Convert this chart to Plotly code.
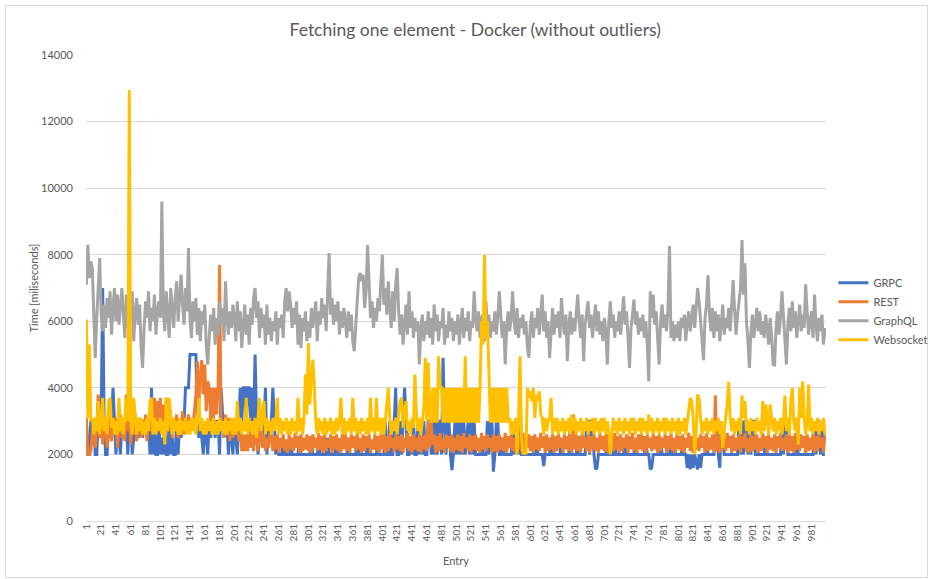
import plotly.graph_objects as go

# Entries 1..999, every second entry (milliseconds)
series_names = ["GRPC", "REST", "GraphQL", "Websocket"]
series_colors = ["#4472C4", "#ED7D31", "#A5A5A5", "#FFC000"]

grpc_ms = [
    3000, 2000, 2000, 3000, 2500, 3000, 2000, 2000, 3000, 2500, 3000, 7000, 3000, 2000, 2000, 3000, 2500, 3000, 4000, 3000, 2000, 3000, 2500, 2000, 3000,
    3000, 2500, 3000, 2000, 3000, 3000, 2000, 2500, 3000, 3000, 2500, 3000, 3000, 2500, 3000, 3000, 2500, 3000, 2000, 4000, 2000, 3000, 2000, 2000, 3000,
    2000, 2500, 2000, 3000, 2000, 2000, 3000, 2000, 2500, 2000, 2000, 3000, 2000, 3000, 2500, 3000, 3000, 4000, 4000, 4000, 5000, 5000, 5000, 5000, 5000,
    3000, 2500, 3000, 2500, 2000, 3000, 2500, 2000, 3000, 2500, 3000, 3000, 2500, 3000, 3000, 2000, 4000, 3000, 2500, 3000, 3000, 2000, 3000, 2500, 2000,
    3000, 2500, 2000, 3000, 4000, 3000, 4000, 4000, 3000, 4000, 4000, 3000, 4000, 3000, 5000, 3000, 2000, 2500, 3000, 2500, 3000, 4000, 2000, 3000, 2500,
    3000, 4000, 3000, 2000, 2500, 2000, 2000, 2000, 2500, 2000, 2000, 2000, 2000, 2500, 2000, 2000, 2000, 2000, 2000, 2500, 2000, 2000, 2000, 2000, 2000,
    2000, 2000, 2500, 2000, 2000, 2000, 2000, 2500, 2000, 2000, 2000, 2000, 2000, 2500, 2000, 2000, 2000, 2000, 2000, 2500, 2000, 2000, 2000, 2000, 2000,
    2000, 2000, 2500, 2000, 2000, 2000, 2000, 2000, 2500, 2000, 2000, 2000, 2000, 2000, 2000, 2500, 2000, 2000, 2000, 2000, 2000, 2000, 2500, 2000, 2000,
    2000, 2000, 3000, 2000, 2000, 3000, 2000, 2000, 3000, 4000, 2000, 2000, 3000, 2000, 3000, 4000, 3000, 2000, 2000, 2500, 2000, 3000, 2000, 2000, 3000,
    2000, 2500, 2000, 3000, 2000, 2000, 3000, 3000, 2000, 3000, 2000, 3000, 2000, 3000, 3000, 2000, 4900, 3000, 2000, 3000, 3000, 2000, 1530, 2000, 3000,
    2000, 3000, 2000, 3000, 2000, 3000, 2000, 2500, 3000, 2000, 3000, 2000, 3000, 2000, 2000, 2000, 2000, 2500, 2000, 2000, 2000, 3000, 2000, 3000, 3000,
    1480, 2000, 3000, 3000, 2000, 2000, 2500, 2000, 2000, 2000, 2000, 2000, 2000, 3000, 2000, 3000, 3000, 2000, 3000, 2000, 2000, 2000, 2000, 2000, 2000,
    2000, 2000, 2000, 2000, 2500, 2000, 2000, 2000, 2000, 1650, 2000, 2000, 2000, 2000, 2500, 2000, 2000, 2000, 2000, 2000, 2000, 2500, 2000, 2000, 2000,
    2000, 2000, 3000, 2000, 2000, 2000, 2000, 2500, 2000, 2000, 2000, 2000, 2000, 3000, 3000, 2000, 3000, 3000, 2000, 1550, 1600, 2000, 2000, 2000, 2000,
    2000, 2000, 3000, 2000, 2000, 2000, 2000, 2500, 2000, 2000, 2000, 2000, 2000, 2000, 2500, 2000, 2000, 2000, 2000, 2000, 2000, 2500, 2000, 2000, 2000,
    2000, 2000, 2000, 2500, 2000, 2000, 1550, 1600, 2000, 2000, 2000, 2000, 2000, 2500, 2000, 2000, 2000, 2000, 2000, 2000, 2500, 2000, 2000, 2000, 2000,
    2000, 2000, 2000, 2500, 2000, 2000, 1600, 2000, 1550, 2000, 1600, 2000, 1700, 1550, 2000, 1600, 2000, 2000, 2000, 2500, 2000, 2000, 2000, 2000, 2000,
    2500, 3000, 2000, 1600, 3000, 2500, 2000, 2000, 2000, 2000, 2000, 2000, 2000, 2000, 2000, 2000, 3000, 2000, 3000, 2000, 3000, 3000, 2000, 3000, 2000,
    3000, 3000, 2000, 2000, 2000, 2000, 2000, 2000, 2000, 2500, 2000, 2000, 2000, 2000, 2000, 2000, 2000, 2000, 2000, 2000, 3000, 2000, 3000, 3000, 2000,
    2000, 2000, 2000, 2000, 2000, 2500, 2000, 2000, 2000, 2000, 2000, 2000, 2000, 2000, 2000, 2000, 2000, 3000, 2000, 3000, 3000, 2000, 3000, 2000, 2000,
]

rest_ms = [
    3100, 2000, 2000, 2100, 2600, 3000, 2200, 2800, 3800, 2500, 3100, 2300, 2700, 3000, 2200, 2800, 3200, 2400, 3000, 2600, 3100, 2200, 2900, 3200, 2500,
    3000, 2400, 3800, 2700, 3100, 2300, 3000, 2600, 3200, 2400, 2900, 3100, 2500, 3000, 2600, 3200, 2400, 3000, 2700, 3300, 2600, 3700, 2800, 3600, 3000,
    3700, 2600, 3500, 3000, 3700, 2700, 3600, 3000, 2500, 3100, 2700, 3200, 2500, 3000, 2800, 3300, 2600, 3000, 2800, 3200, 2700, 3100, 2900, 3300, 3800,
    4800, 3500, 4400, 4830, 3800, 4700, 3300, 4200, 4000, 3000, 4000, 3100, 4000, 3200, 4000, 7690, 2900, 3000, 2500, 3200, 2600, 3100, 2400, 3000, 2500,
    3000, 2600, 3200, 2400, 2900, 2100, 2600, 2100, 2600, 2100, 3000, 2200, 2600, 2100, 2900, 2400, 2100, 2600, 3000, 2200, 2600, 2100, 2500, 2200, 2600,
    2600, 2100, 2550, 2150, 2600, 2050, 2500, 2200, 2600, 2100, 2450, 2050, 2600, 2150, 2500, 2100, 2650, 2200, 2550, 2050, 2600, 2100, 2500, 2150, 2600,
    2100, 2550, 2050, 2600, 2200, 2500, 2100, 2650, 2150, 2550, 2050, 2600, 2100, 2450, 2200, 2600, 2050, 2550, 2150, 2600, 2100, 2500, 2050, 2650, 2150,
    2600, 2100, 2500, 2050, 2600, 2200, 2550, 2100, 2650, 2150, 2500, 2050, 2600, 2100, 2550, 2200, 2600, 2050, 2450, 2150, 2600, 2100, 2550, 2050, 2600,
    2150, 2600, 2050, 2550, 2100, 2650, 2200, 2500, 2050, 2600, 2150, 2550, 2100, 2600, 2050, 2500, 2200, 2650, 2100, 2550, 2050, 2600, 2150, 2500, 2100,
    2600, 2050, 2550, 2150, 2600, 2100, 3000, 2200, 3000, 2300, 2600, 2050, 2550, 2100, 2650, 2150, 2500, 2050, 2600, 2200, 2550, 2100, 2600, 2050, 2500,
    2150, 2600, 2100, 2550, 2050, 2650, 2200, 2500, 2100, 2600, 2050, 2550, 2150, 2600, 2100, 2500, 2050, 2650, 2150, 2550, 2100, 2600, 2200, 2500, 2050,
    2600, 2100, 2550, 2050, 2600, 2150, 2500, 2100, 2650, 2050, 2550, 2200, 2600, 2100, 2500, 2050, 2600, 2150, 2550, 2100, 2650, 2050, 2500, 2200, 2600,
    2100, 2550, 2050, 2600, 2150, 2500, 2100, 2650, 2200, 2550, 2050, 2600, 2100, 2500, 2150, 2600, 2050, 2550, 2100, 2650, 2200, 2500, 2050, 2600, 2150,
    2550, 2100, 2600, 2050, 3200, 2150, 2600, 2100, 2550, 2050, 2650, 2200, 2500, 2100, 2600, 2050, 2550, 2150, 2600, 2100, 2500, 2050, 2650, 2150, 2550,
    2100, 2600, 2050, 2550, 2200, 2500, 2100, 2650, 2150, 2550, 2050, 2600, 2100, 2500, 2200, 2600, 2050, 2550, 2150, 2650, 2100, 2500, 2050, 2600, 2150,
    2600, 2100, 2550, 2050, 2600, 2200, 2500, 2100, 2650, 2150, 2550, 2050, 2600, 2100, 2500, 2200, 2600, 2050, 2550, 2150, 2650, 2100, 2500, 2050, 2600,
    2150, 2550, 2100, 2600, 2050, 2500, 2200, 2650, 2100, 2550, 2050, 2600, 2150, 2500, 2100, 2600, 2200, 2550, 2050, 2650, 2100, 2500, 2150, 2600, 2050,
    3780, 2100, 2550, 2050, 2600, 2150, 2500, 2100, 2650, 2200, 2550, 2050, 2600, 2100, 2500, 2150, 2600, 2050, 2550, 2200, 2650, 2100, 2500, 2050, 2600,
    2100, 2550, 2150, 2600, 2050, 2500, 2100, 2650, 2200, 2550, 2050, 2600, 2150, 2500, 2100, 2600, 2050, 2550, 2200, 2650, 2100, 2500, 2150, 2600, 2050,
    2600, 2100, 2550, 2050, 2650, 2150, 2500, 2100, 2600, 2200, 2550, 2050, 2600, 2100, 2500, 2150, 2650, 2050, 2550, 2100, 2600, 2200, 2500, 2050, 2600,
]

graphql_ms = [
    7100, 8300, 7300, 7800, 7600, 6300, 4900, 6100, 6900, 7900, 6200, 5700, 6500, 5800, 6700, 6100, 6900, 5600, 6400, 7000, 6000, 6800, 5900, 6600, 7000,
    6200, 5500, 6800, 5800, 7100, 6000, 6900, 5400, 6300, 6700, 5900, 6500, 5200, 4600, 5800, 6600, 6100, 6900, 5700, 6400, 6000, 6800, 5600, 6300, 6600,
    6100, 9600, 6300, 5700, 6900, 6200, 5500, 7000, 6400, 5800, 6700, 7200, 6000, 6800, 7400, 6500, 5900, 7000, 6300, 8200, 6100, 5500, 6600, 6000, 6700,
    5600, 6400, 5400, 6300, 5900, 6500, 5300, 4700, 5500, 6200, 5700, 6400, 5300, 6100, 5600, 6600, 5900, 6400, 5400, 7200, 6100, 5600, 6300, 5800, 6500,
    6100, 5400, 6600, 5700, 6300, 5200, 6000, 6500, 5600, 6200, 5300, 6400, 5900, 6700, 7000, 6100, 6600, 5500, 6400, 5800, 6200, 5300, 6500, 5600, 6100,
    5400, 6000, 5700, 6300, 5300, 6100, 5800, 6200, 5500, 6600, 7000, 6300, 6900, 6500, 5800, 6400, 5900, 6600, 5300, 6200, 5200, 6100, 5700, 6300, 5400,
    6000, 5500, 6400, 5800, 6200, 6600, 5400, 6300, 5900, 6700, 6100, 6500, 5700, 6900, 8050, 6200, 6700, 5900, 6500, 6000, 6600, 5600, 6300, 5800, 6400,
    6000, 5500, 6300, 5700, 6200, 5400, 5100, 6000, 6600, 7300, 7450, 7200, 7400, 6400, 6900, 8290, 7000, 6100, 6600, 5800, 6400, 6000, 6700, 6300, 7200,
    8000, 6500, 7000, 6200, 7200, 6400, 5800, 6900, 6000, 7100, 7600, 6300, 5600, 6200, 5300, 5900, 6500, 5600, 6900, 5800, 6300, 5500, 6100, 5700, 6000,
    4700, 5800, 6200, 5400, 6000, 5600, 6300, 5500, 6100, 5300, 6500, 5700, 6200, 5400, 6000, 5800, 6400, 5300, 5900, 5500, 6300, 5700, 6100, 5400, 6000,
    5600, 6200, 5300, 5900, 6400, 5500, 6100, 5700, 6300, 5400, 6000, 5800, 6900, 6100, 5700, 6300, 5500, 6100, 6200, 5400, 6600, 5800, 6200, 5500, 6000,
    5700, 6300, 5600, 6100, 6900, 6200, 5500, 6000, 4700, 5800, 6300, 5700, 6100, 6900, 6000, 5600, 6400, 5500, 6100, 5800, 6200, 5600, 6000, 5200, 4900,
    5900, 6300, 5500, 6100, 5800, 6400, 5600, 6200, 6800, 5700, 6300, 5500, 6000, 4900, 5900, 6400, 5600, 6200, 5800, 6300, 5500, 6700, 6000, 5600, 6200,
    4800, 5900, 6300, 5600, 6100, 5700, 6400, 6800, 6000, 5500, 6200, 4800, 5900, 6300, 6600, 5800, 6200, 5500, 6100, 6500, 5700, 6300, 5600, 6000, 5400,
    6100, 5700, 4700, 6000, 6600, 5800, 6200, 5500, 6000, 5700, 6300, 5600, 6100, 6750, 5900, 6300, 5500, 4600, 5800, 6200, 6650, 5900, 6300, 5600, 6100,
    5700, 6200, 5500, 6000, 5300, 4200, 6900, 6100, 6800, 5900, 6300, 5600, 4700, 6000, 6500, 5800, 6200, 5700, 6400, 8260, 5500, 6000, 5400, 5900, 5500,
    6000, 5400, 6100, 5800, 6200, 5400, 6000, 6300, 5700, 6200, 6500, 5800, 6300, 7000, 6600, 5900, 5400, 4830, 6100, 6500, 7390, 6200, 5700, 6400, 5500,
    6300, 5700, 6200, 5400, 6000, 6500, 5600, 6100, 5800, 6400, 5700, 6600, 7240, 6300, 5600, 6200, 6700, 7000, 8440, 6800, 7740, 6000, 5400, 4600, 5700,
    6200, 5500, 6100, 6400, 5700, 6300, 5600, 6000, 5500, 6200, 5800, 5300, 6100, 5600, 4700, 4690, 5800, 6300, 5600, 6100, 6900, 6200, 5500, 4700, 5900,
    6400, 5700, 6600, 5800, 6300, 5500, 6100, 6500, 5700, 6200, 5800, 7110, 6300, 5600, 6000, 6300, 5500, 6800, 5900, 5400, 6100, 5700, 6200, 5300, 5800,
]

websocket_ms = [
    6050, 3100, 5300, 3000, 3100, 2600, 3100, 2700, 3600, 2600, 3100, 3700, 2700, 3100, 2600, 3600, 3700, 2800, 3100, 2600, 3000, 2600, 3700, 2700, 3100,
    2600, 3100, 3700, 3000, 12950, 3000, 2600, 3700, 3100, 2600, 3100, 2700, 3100, 2600, 3000, 2600, 3100, 2700, 3600, 3700, 2600, 3100, 2600, 3000, 2700,
    3100, 2600, 3000, 2300, 3700, 2700, 3700, 3100, 2600, 3100, 2700, 3000, 2600, 3100, 2600, 3000, 2700, 3100, 2600, 3000, 2600, 3100, 2700, 3100, 2600,
    3100, 3700, 2700, 3100, 2600, 3000, 2600, 3100, 2700, 3000, 2600, 3100, 2600, 3000, 2600, 3100, 2700, 3000, 2600, 3100, 2600, 3000, 2700, 3100, 2600,
    3100, 2600, 3600, 2700, 3100, 2600, 3000, 2700, 3700, 2600, 3100, 2700, 3000, 2600, 3100, 2500, 3000, 3700, 2700, 3100, 3600, 2600, 3100, 2700, 3000,
    2600, 3100, 2700, 3000, 3700, 2600, 3100, 2600, 3000, 2700, 3100, 2600, 3000, 2600, 3100, 2700, 3000, 2600, 3700, 2700, 3100, 2600, 3000, 4400, 3200,
    5350, 3500, 4200, 4850, 4100, 3000, 2600, 3100, 2700, 3000, 2600, 3100, 2600, 3000, 2700, 3100, 2600, 3000, 2600, 3100, 2700, 3000, 3700, 2600, 3100,
    2600, 3000, 2700, 3100, 2600, 3700, 2700, 3100, 2600, 3000, 2600, 3100, 2700, 3000, 2600, 3100, 2600, 3700, 2700, 3100, 2600, 3700, 2700, 3100, 2600,
    3100, 2600, 3000, 3500, 4000, 3100, 2600, 3000, 2700, 3100, 2600, 3200, 3600, 3700, 2800, 3300, 3600, 2700, 3000, 2600, 3100, 2800, 4400, 3200, 2700,
    3100, 2600, 3000, 3400, 4900, 3000, 4750, 3200, 2950, 4000, 2950, 4000, 2950, 4950, 4000, 4000, 2950, 4000, 2950, 4000, 2950, 4000, 2950, 4000, 2950,
    4000, 2950, 4000, 2950, 4000, 2950, 4950, 2950, 4000, 2950, 4000, 2950, 4000, 2950, 4000, 2950, 4000, 6000, 5300, 7990, 5500, 6000, 4000, 2950, 4000,
    2950, 4000, 2950, 4000, 2950, 4000, 2950, 4000, 2950, 4000, 2950, 3100, 2600, 3000, 2600, 3100, 2000, 3000, 4950, 2600, 2000, 2100, 2000, 4000, 3700,
    3900, 3600, 4000, 3100, 3800, 3600, 3900, 3200, 3100, 2600, 3100, 2700, 3000, 3100, 3700, 2600, 3100, 2700, 3100, 2600, 3000, 2700, 3100, 2600, 3000,
    2700, 3100, 2600, 3200, 2700, 3100, 2600, 3000, 2700, 3100, 2600, 3000, 2700, 3100, 2600, 3000, 2700, 3100, 2600, 3100, 2700, 3000, 2600, 3100, 2700,
    3100, 2600, 3000, 2700, 2000, 2600, 3100, 2700, 3000, 2600, 3100, 2700, 3000, 2600, 3100, 2700, 3000, 2600, 3100, 2700, 3100, 2600, 3000, 2700, 3100,
    2600, 3100, 2700, 3000, 2600, 3200, 2700, 3100, 2600, 3000, 2700, 3100, 2600, 3000, 2700, 3100, 2600, 3100, 2700, 3000, 2600, 3100, 2700, 3000, 2600,
    3100, 2600, 3000, 2700, 3100, 2600, 3000, 3300, 3700, 3600, 3100, 2000, 2700, 3800, 3700, 3100, 2600, 3000, 2700, 3100, 2600, 3000, 2700, 3100, 2600,
    3000, 2700, 3100, 2600, 3000, 2200, 2700, 3100, 3500, 4180, 3100, 2700, 3100, 2600, 3000, 2700, 3100, 2600, 3770, 3100, 3600, 2700, 3000, 2600, 3100,
    2700, 3000, 2600, 3100, 2700, 3000, 2600, 3600, 2700, 3500, 3100, 2600, 3500, 3000, 2700, 3100, 2600, 3000, 2700, 3100, 2600, 3000, 3770, 2700, 3100,
    2600, 3600, 3990, 3000, 2700, 3100, 2300, 4000, 3100, 4200, 3100, 2600, 3000, 4100, 2700, 3100, 2600, 3000, 2700, 3100, 2600, 3000, 2700, 3100, 2600,
]

tick_labels = [str(v) for v in range(1, 1000, 20)]

fig = go.Figure()
for name, color, values in zip(
    series_names, series_colors, [grpc_ms, rest_ms, graphql_ms, websocket_ms]
):
    entries = list(range(1, 2 * len(values), 2))
    fig.add_trace(
        go.Scatter(
            x=entries,
            y=values,
            mode="lines",
            name=name,
            line=dict(color=color, width=3),
        )
    )

font_family = "Lato, 'Open Sans', sans-serif"
fig.update_layout(
    width=930,
    height=579,
    paper_bgcolor="white",
    plot_bgcolor="white",
    font=dict(family=font_family, color="#595959", size=11),
    title=dict(
        text="Fetching one element - Docker (without outliers)",
        x=0.511,
        xanchor="center",
        y=0.948,
        yanchor="middle",
        font=dict(size=17.5, color="#595959"),
    ),
    # fixed margins so the legend does not squeeze the plot area
    margin=dict(l=86, r=104, t=55, b=58, autoexpand=False),
    legend=dict(
        x=1.01,
        xanchor="left",
        y=0.45,
        yanchor="middle",
        font=dict(size=11, color="#595959"),
        tracegroupgap=0,
        bgcolor="rgba(0,0,0,0)",
    ),
    showlegend=True,
    shapes=[
        dict(
            type="rect",
            xref="paper",
            yref="paper",
            x0=(5.5 - 86) / 740,
            x1=(927.5 - 86) / 740,
            y0=(521 - 577.5) / 466,
            y1=(521 - 5.5) / 466,
            line=dict(color="#d9d9d9", width=1),
            layer="below",
        )
    ],
)

fig.update_xaxes(
    range=[0.5, 1000.5],
    tickmode="array",
    tickvals=list(range(1, 1000, 20)),
    ticktext=tick_labels,
    tickangle=-90,
    tickfont=dict(size=10, color="#595959"),
    showgrid=False,
    zeroline=False,
    showline=False,
    ticks="",
    automargin=False,
    title=dict(text="Entry", font=dict(size=11, color="#595959"), standoff=16),
)
fig.update_yaxes(
    range=[0, 14000],
    dtick=2000,
    tickformat="d",
    showgrid=True,
    gridcolor="#d9d9d9",
    gridwidth=1,
    zeroline=True,
    zerolinecolor="#d9d9d9",
    zerolinewidth=1,
    showline=False,
    ticks="",
    ticklabelstandoff=12,
    automargin=False,
    tickfont=dict(size=11, color="#595959"),
    title=dict(text="Time [miliseconds]", font=dict(size=11, color="#595959"), standoff=0),
)

# the page body has a default 8px margin; drop it so the chart sits at the corner
fig.write_html(
    "out.html",
    config={"displayModeBar": False},
    post_script="document.body.style.margin='0';",
)
